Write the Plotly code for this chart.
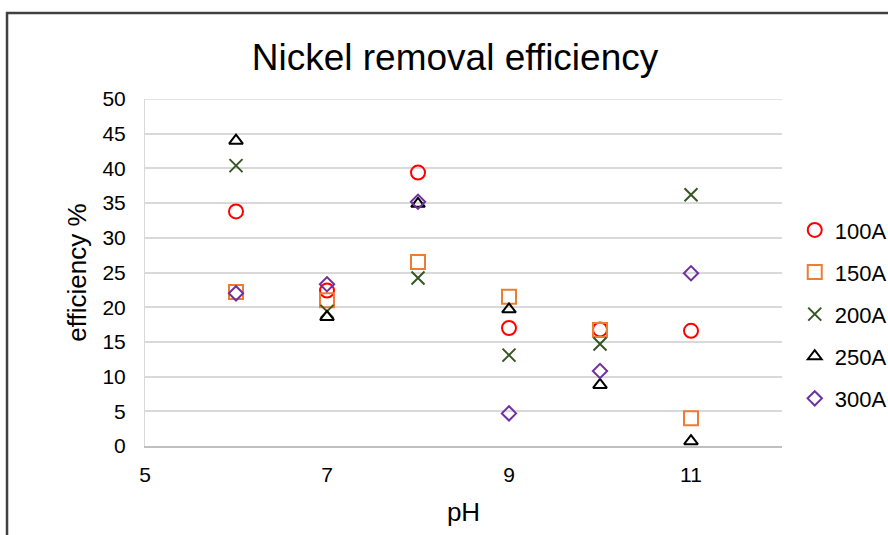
import plotly.graph_objects as go

ph = [6, 7, 8, 9, 10, 11]
eff_100A = [33.8, 22.4, 39.4, 17.0, 16.8, 16.6]
eff_150A = [22.2, 21.0, 26.5, 21.5, 16.7, 4.0]
eff_200A = [40.4, 19.4, 24.2, 13.1, 14.7, 36.2]
eff_250A = [44.0, 18.6, 34.9, 19.7, 8.8, 0.7]
eff_300A = [22.0, 23.3, 35.2, 4.7, 10.8, 24.9]

series_names = ["100A", "150A", "200A", "250A", "300A"]
series_vals = [eff_100A, eff_150A, eff_200A, eff_250A, eff_300A]
symbols = ["circle-open", "square-open", "x-thin-open", "triangle-up-open", "diamond-open"]
colors = ["#FF0000", "#ED7D31", "#375623", "#000000", "#7030A0"]
sizes = [14, 14, 13, 12, 11]

FONT = "Arial, 'Liberation Sans', sans-serif"

fig = go.Figure()
for name, vals, sym, col, sz in zip(series_names, series_vals, symbols, colors, sizes):
    fig.add_trace(go.Scatter(
        x=ph, y=vals, mode="markers", name=name, legendgroup=name,
        marker=dict(symbol=sym, size=sz, color=col, line=dict(color=col, width=2)),
    ))

fig.update_layout(
    width=888, height=535,
    margin=dict(l=145, r=106, t=99, b=89, autoexpand=False),
    paper_bgcolor="white", plot_bgcolor="white",
    font=dict(family=FONT, color="#000000", size=21),
    title=dict(text="Nickel removal efficiency", x=455/888, xanchor="center",
               y=1-57/535, yanchor="middle", yref="container",
               font=dict(size=37, family=FONT, color="#000000")),
    legend=dict(x=1.02, y=0.38, xanchor="left", yanchor="middle",
                font=dict(size=22, family=FONT), tracegroupgap=10.5,
                itemwidth=30, bgcolor="rgba(0,0,0,0)"),
    xaxis=dict(range=[5, 12], tick0=5, dtick=2, showgrid=False, zeroline=False,
               showline=True, linecolor="#BFBFBF", linewidth=2,
               ticks="", ticklabelstandoff=9,
               title=dict(text="pH", font=dict(size=26), standoff=18)),
    yaxis=dict(range=[0, 50], dtick=5, showgrid=True, gridcolor="#D9D9D9", gridwidth=1.5,
               zeroline=False, showline=True, linecolor="#D9D9D9", linewidth=1,
               ticks="", ticklabelstandoff=14,
               title=dict(text="efficiency %", font=dict(size=26), standoff=8)),
    shapes=[
        dict(type="line", xref="paper", yref="y", x0=0, x1=1, y0=50, y1=50,
             line=dict(color="#D9D9D9", width=1.5), layer="below"),
        dict(type="path", xref="paper", yref="paper",
             path="M -0.2166,-0.4 L -0.2166,1.2478 L 1.3,1.2478",
             line=dict(color="#404040", width=2.5)),
    ],
)

fig.write_html("out.html")
